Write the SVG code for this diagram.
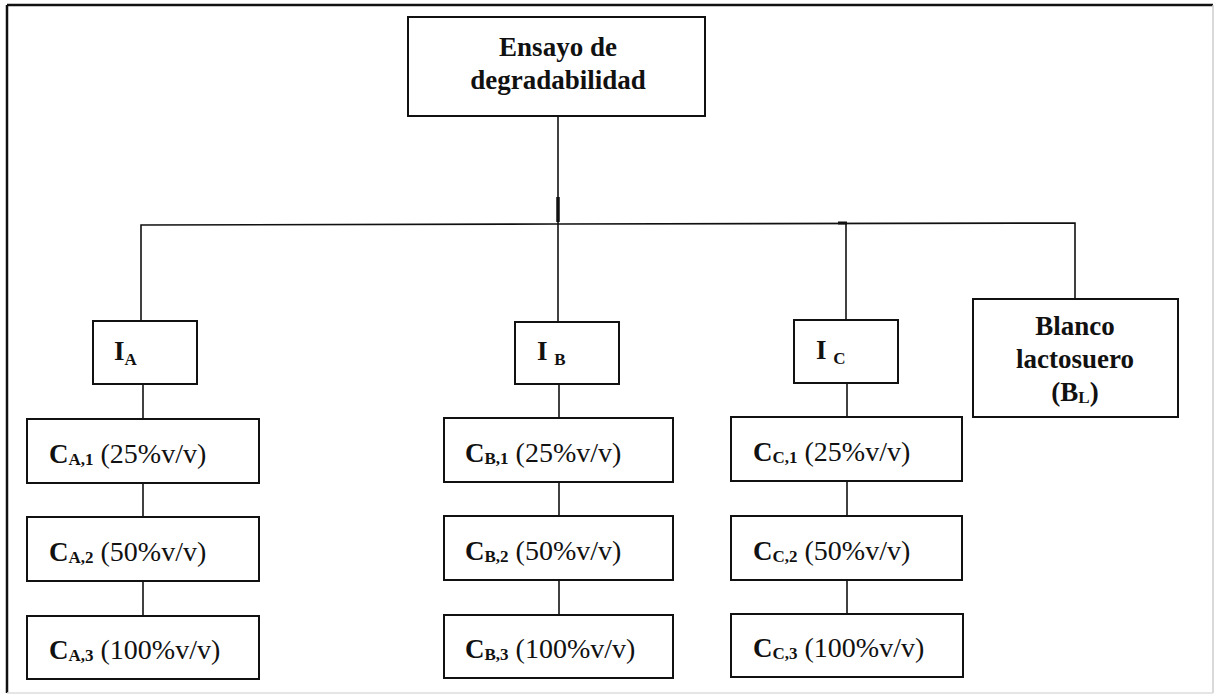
<svg xmlns="http://www.w3.org/2000/svg" width="1214" height="696" viewBox="0 0 1214 696">
  <style>
    .box { fill: #fff; stroke: #111; stroke-width: 2; }
    .wire { fill: none; stroke: #111; stroke-width: 1.6; }
    .t { font-family: "Liberation Serif", "Times New Roman", serif; fill: #111; }
    .b { font-weight: bold; font-size: 27px; }
    .r { font-size: 28px; }
    .sub { font-weight: bold; font-size: 17px; }
    .mid { text-anchor: middle; }
  </style>

  <rect x="0" y="0" width="1214" height="696" fill="#fff"/>

  <!-- outer frame -->
  <g id="frame">
    <line x1="7" y1="5" x2="1213" y2="5" stroke="#111" stroke-width="2.5"/>
    <line x1="7" y1="5" x2="7" y2="693" stroke="#111" stroke-width="2.5"/>
    <line x1="1213" y1="5" x2="1213" y2="693" stroke="#ccc" stroke-width="1.5"/>
    <line x1="7" y1="693" x2="1213" y2="693" stroke="#ddd" stroke-width="1.5"/>
  </g>

  <!-- connectors -->
  <g id="connectors">
    <line class="wire" x1="558" y1="116" x2="558" y2="224"/>
    <line x1="558" y1="197" x2="558" y2="222" stroke="#111" stroke-width="3.5"/>
    <polyline class="wire" points="141,321 141,225 558,224 1075,223 1075,299"/>
    <line class="wire" x1="558" y1="224" x2="558" y2="322"/>
    <line class="wire" x1="846" y1="223" x2="846" y2="320"/>
    <line x1="838" y1="223" x2="847" y2="223" stroke="#111" stroke-width="3"/>
    <!-- column A -->
    <line class="wire" x1="143" y1="384" x2="143" y2="419"/>
    <line class="wire" x1="143" y1="483" x2="143" y2="517"/>
    <line class="wire" x1="143" y1="581" x2="143" y2="616"/>
    <!-- column B -->
    <line class="wire" x1="559" y1="384" x2="559" y2="418"/>
    <line class="wire" x1="559" y1="482" x2="559" y2="516"/>
    <line class="wire" x1="559" y1="580" x2="559" y2="615"/>
    <!-- column C -->
    <line class="wire" x1="847" y1="383" x2="847" y2="417"/>
    <line class="wire" x1="847" y1="481" x2="847" y2="516"/>
    <line class="wire" x1="847" y1="580" x2="847" y2="614"/>
  </g>

  <g id="root">
    <rect class="box" x="408" y="17" width="297" height="99"/>
    <text class="t b mid" x="558" y="56">Ensayo de</text>
    <text class="t b mid" x="558" y="89">degradabilidad</text>
  </g>

  <g id="inoculo-a">
    <rect class="box" x="93" y="321" width="104" height="63"/>
    <text class="t b" x="114" y="360">I<tspan class="sub" dy="5">A</tspan></text>
  </g>
  <g id="inoculo-b">
    <rect class="box" x="515" y="322" width="104" height="62"/>
    <text class="t b" x="537" y="360">I <tspan class="sub" dy="5">B</tspan></text>
  </g>
  <g id="inoculo-c">
    <rect class="box" x="794" y="320" width="104" height="63"/>
    <text class="t b" x="816" y="359">I <tspan class="sub" dy="5">C</tspan></text>
  </g>
  <g id="blanco">
    <rect class="box" x="973" y="299" width="205" height="118"/>
    <text class="t b mid" x="1075" y="335">Blanco</text>
    <text class="t b mid" x="1075" y="368">lactosuero</text>
    <text class="t b mid" x="1075" y="401">(B<tspan class="sub" dy="2">L</tspan><tspan dy="-2">)</tspan></text>
  </g>

  <!-- concentration boxes, column A -->
  <g id="ca1">
    <rect class="box" x="27" y="419" width="232" height="64"/>
    <text class="t r" x="49" y="463"><tspan class="b" font-size="28">C</tspan><tspan class="sub" dy="2">A,1</tspan><tspan dy="-2"> (25%v/v)</tspan></text>
  </g>
  <g id="ca2">
    <rect class="box" x="27" y="517" width="232" height="64"/>
    <text class="t r" x="49" y="561"><tspan class="b" font-size="28">C</tspan><tspan class="sub" dy="2">A,2</tspan><tspan dy="-2"> (50%v/v)</tspan></text>
  </g>
  <g id="ca3">
    <rect class="box" x="27" y="616" width="232" height="63"/>
    <text class="t r" x="49" y="659"><tspan class="b" font-size="28">C</tspan><tspan class="sub" dy="2">A,3</tspan><tspan dy="-2"> (100%v/v)</tspan></text>
  </g>

  <!-- column B -->
  <g id="cb1">
    <rect class="box" x="444" y="418" width="229" height="64"/>
    <text class="t r" x="465" y="462"><tspan class="b" font-size="28">C</tspan><tspan class="sub" dy="2">B,1</tspan><tspan dy="-2"> (25%v/v)</tspan></text>
  </g>
  <g id="cb2">
    <rect class="box" x="444" y="516" width="229" height="64"/>
    <text class="t r" x="465" y="560"><tspan class="b" font-size="28">C</tspan><tspan class="sub" dy="2">B,2</tspan><tspan dy="-2"> (50%v/v)</tspan></text>
  </g>
  <g id="cb3">
    <rect class="box" x="444" y="615" width="229" height="63"/>
    <text class="t r" x="465" y="658"><tspan class="b" font-size="28">C</tspan><tspan class="sub" dy="2">B,3</tspan><tspan dy="-2"> (100%v/v)</tspan></text>
  </g>

  <!-- column C -->
  <g id="cc1">
    <rect class="box" x="731" y="417" width="231" height="64"/>
    <text class="t r" x="753" y="461"><tspan class="b" font-size="28">C</tspan><tspan class="sub" dy="2">C,1</tspan><tspan dy="-2"> (25%v/v)</tspan></text>
  </g>
  <g id="cc2">
    <rect class="box" x="731" y="516" width="231" height="64"/>
    <text class="t r" x="753" y="560"><tspan class="b" font-size="28">C</tspan><tspan class="sub" dy="2">C,2</tspan><tspan dy="-2"> (50%v/v)</tspan></text>
  </g>
  <g id="cc3">
    <rect class="box" x="731" y="614" width="232" height="63"/>
    <text class="t r" x="753" y="657"><tspan class="b" font-size="28">C</tspan><tspan class="sub" dy="2">C,3</tspan><tspan dy="-2"> (100%v/v)</tspan></text>
  </g>
</svg>
